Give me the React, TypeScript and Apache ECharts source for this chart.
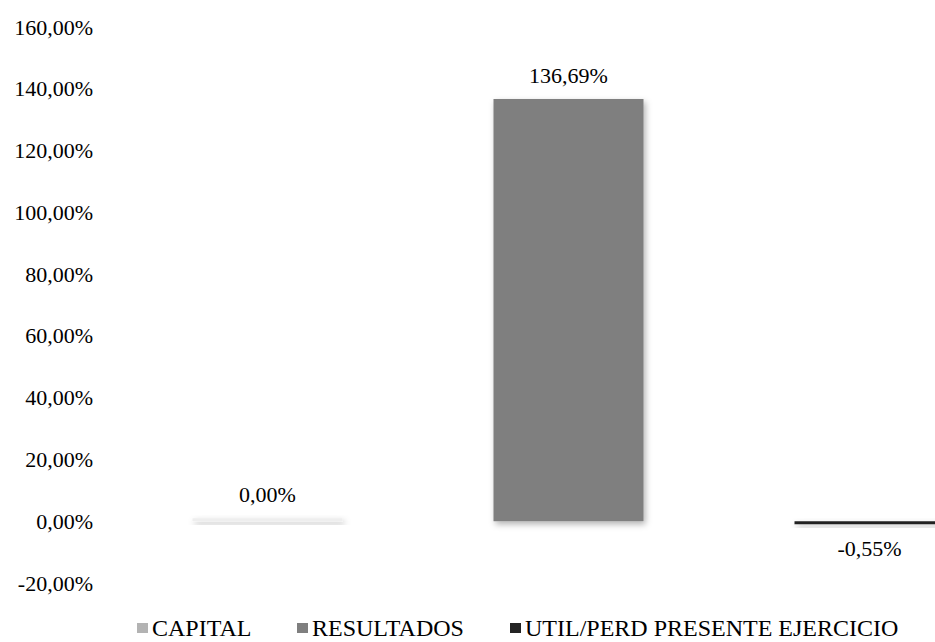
import React, { useEffect, useRef } from "react";
import * as echarts from "echarts";

const categories = ["CAPITAL", "RESULTADOS", "UTIL/PERD PRESENTE EJERCICIO"];
const capitalValues = [0, "-", "-"];
const resultadosValues = ["-", 136.69, "-"];
const utilValues = ["-", "-", -0.55];
const yMin = -20;
const yMax = 160;
const yInterval = 20;

const fmt = (v: number) => v.toFixed(2).replace(".", ",") + "%";

export default function App() {
  const ref = useRef<HTMLDivElement>(null);
  useEffect(() => {
    if (!ref.current) return;
    const chart = echarts.init(ref.current, undefined, { renderer: "svg" });
    const font = "'Liberation Serif', 'Times New Roman', serif";
    const shadow = {
      shadowBlur: 6,
      shadowColor: "rgba(0,0,0,0.3)",
      shadowOffsetX: 2,
      shadowOffsetY: 3,
    };
    const mkSeries = (name: string, data: any[], color: string, pos: string) => ({
      name,
      type: "bar",
      data,
      barWidth: 150,
      barGap: "-100%",
      barMinHeight: 3,
      itemStyle: { color, ...shadow },
      label: {
        show: true,
        position: pos,
        distance: 13,
        color: "#000",
        fontFamily: font,
        fontSize: 22,
        formatter: (p: any) => fmt(p.value),
      },
    });
    const legendBase = {
      top: 616,
      padding: 0,
      itemWidth: 11,
      itemHeight: 10,
      icon: "rect",
      textStyle: { fontFamily: font, fontSize: 24, color: "#000", lineHeight: 24, padding: [0, 0, 0, -1] },
      selectedMode: false,
    };
    chart.setOption({
      animation: false,
      textStyle: { fontFamily: font },
      grid: { left: 117, top: 27, right: 0, height: 556, containLabel: false },
      legend: [
        { ...legendBase, left: 137, data: [{ name: "CAPITAL", itemStyle: { color: "#b3b3b3" } }] },
        { ...legendBase, left: 297, data: [{ name: "RESULTADOS" }] },
        { ...legendBase, left: 510, data: [{ name: "UTIL/PERD PRESENTE EJERCICIO" }] },
      ],
      xAxis: {
        type: "category",
        data: categories,
        axisLine: { show: false },
        axisTick: { show: false },
        axisLabel: { show: false },
      },
      yAxis: {
        type: "value",
        min: yMin,
        max: yMax,
        interval: yInterval,
        splitLine: { show: false },
        axisLine: { show: false },
        axisTick: { show: false },
        axisLabel: {
          margin: 24,
          color: "#000",
          fontFamily: font,
          fontSize: 22,
          formatter: (v: number) => fmt(v),
        },
      },
      series: [
        mkSeries("CAPITAL", capitalValues, "#eeeeee", "top"),
        mkSeries("RESULTADOS", resultadosValues, "#7f7f7f", "top"),
        mkSeries("UTIL/PERD PRESENTE EJERCICIO", utilValues, "#232323", "bottom"),
      ],
    });
    return () => chart.dispose();
  }, []);
  return (
    <div style={{ position: "absolute", left: 0, top: 0, width: 935, height: 642, overflow: "hidden" }}>
      <div ref={ref} style={{ width: 1020, height: 642 }} />
    </div>
  );
}
